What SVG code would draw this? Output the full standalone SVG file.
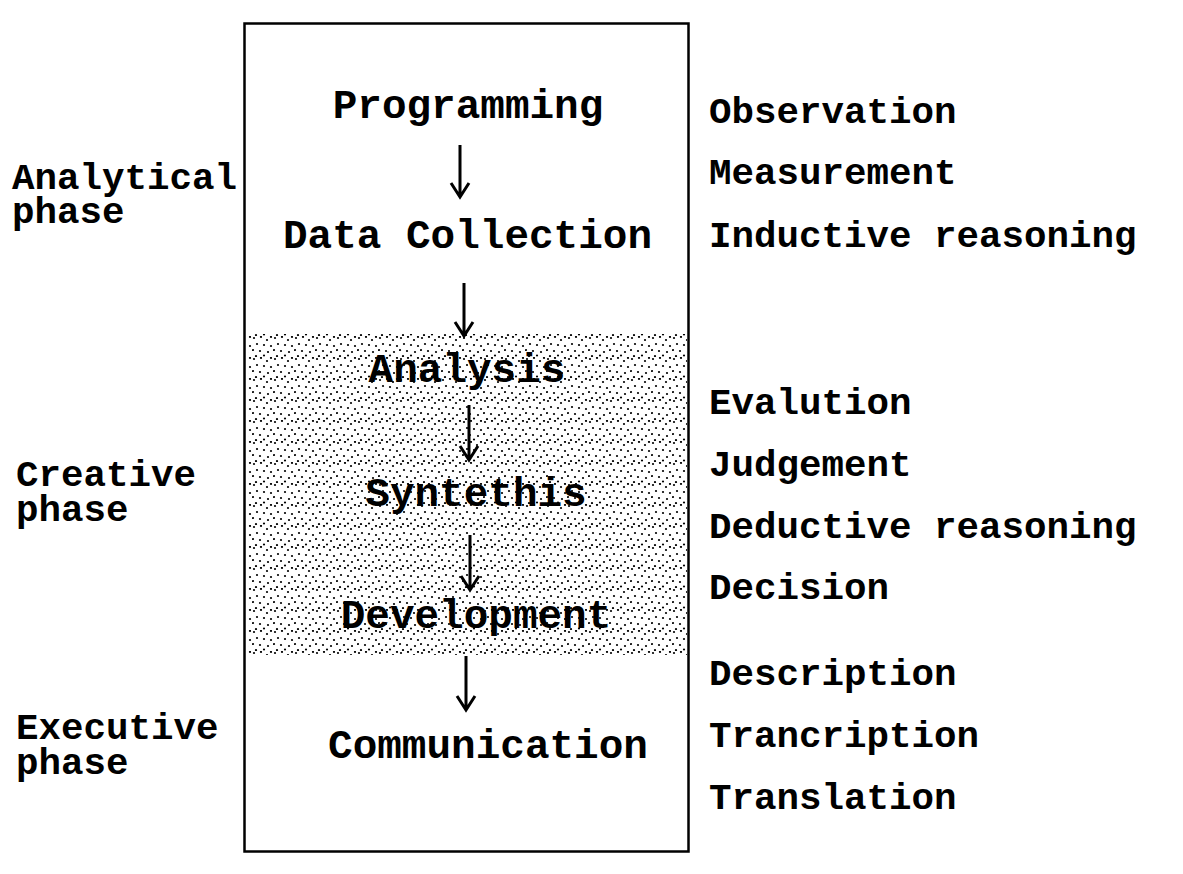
<svg xmlns="http://www.w3.org/2000/svg" width="1183" height="874" viewBox="0 0 1183 874">
<style>
text{font-family:"Liberation Mono","Courier New",monospace;font-weight:bold;fill:#000}
.c{font-size:41px;text-anchor:middle}
.s{font-size:37.5px}
.arr{stroke:#000;stroke-width:3;fill:none}
</style>
<defs>
<pattern id="dots" width="21" height="21" patternUnits="userSpaceOnUse">
<rect width="21" height="21" fill="#fff"/>
<g fill="#000">
<circle cx="2" cy="2" r="1.1"/><circle cx="9" cy="1" r="1.1"/><circle cx="15" cy="4" r="1.1"/>
<circle cx="5" cy="8" r="1.1"/><circle cx="12" cy="9" r="1.1"/><circle cx="19" cy="10" r="1.1"/>
<circle cx="1" cy="14" r="1.1"/><circle cx="8" cy="15" r="1.1"/><circle cx="16" cy="16" r="1.1"/>
<circle cx="4" cy="20" r="1.1"/><circle cx="12" cy="19.5" r="1.1"/><circle cx="19" cy="1" r="1.1"/>
</g>
</pattern>
</defs>
<rect width="1183" height="874" fill="#fff"/>
<rect id="shade" x="248" y="334" width="439" height="321" fill="url(#dots)"/>
<rect id="frame" x="244.5" y="23.5" width="444" height="828" fill="none" stroke="#000" stroke-width="2.5"/>
<g id="n-programming"><text class="c" x="468" y="118">Programming</text></g>
<g id="n-datacollection"><text class="c" x="467.5" y="248">Data Collection</text></g>
<g id="n-analysis"><text class="c" x="467" y="382">Analysis</text></g>
<g id="n-syntethis"><text class="c" x="476" y="506">Syntethis</text></g>
<g id="n-development"><text class="c" x="476" y="628">Development</text></g>
<g id="n-communication"><text class="c" x="488" y="758">Communication</text></g>
<g id="connectors">
<path class="arr" d="M460 145V197M451 183L460 197L469 183"/>
<path class="arr" d="M464 283V336M455 322L464 336L473 322"/>
<path class="arr" d="M469 405V460M460 446L469 460L478 446"/>
<path class="arr" d="M470 535V590M461 576L470 590L479 576"/>
<path class="arr" d="M466 656V710M457 696L466 710L475 696"/>
</g>
<g id="phase-analytical"><text class="s" x="12" y="189">Analytical<tspan x="12" y="223">phase</tspan></text></g>
<g id="phase-creative"><text class="s" x="16" y="486">Creative<tspan x="16" y="521">phase</tspan></text></g>
<g id="phase-executive"><text class="s" x="16" y="739">Executive<tspan x="16" y="774">phase</tspan></text></g>
<g id="activities">
<text class="s" x="709" y="123">Observation</text>
<text class="s" x="709" y="184">Measurement</text>
<text class="s" x="709" y="247">Inductive reasoning</text>
<text class="s" x="709" y="414">Evalution</text>
<text class="s" x="709" y="476">Judgement</text>
<text class="s" x="709" y="538">Deductive reasoning</text>
<text class="s" x="709" y="599">Decision</text>
<text class="s" x="709" y="685">Description</text>
<text class="s" x="709" y="747">Trancription</text>
<text class="s" x="709" y="809">Translation</text>
</g>
</svg>
